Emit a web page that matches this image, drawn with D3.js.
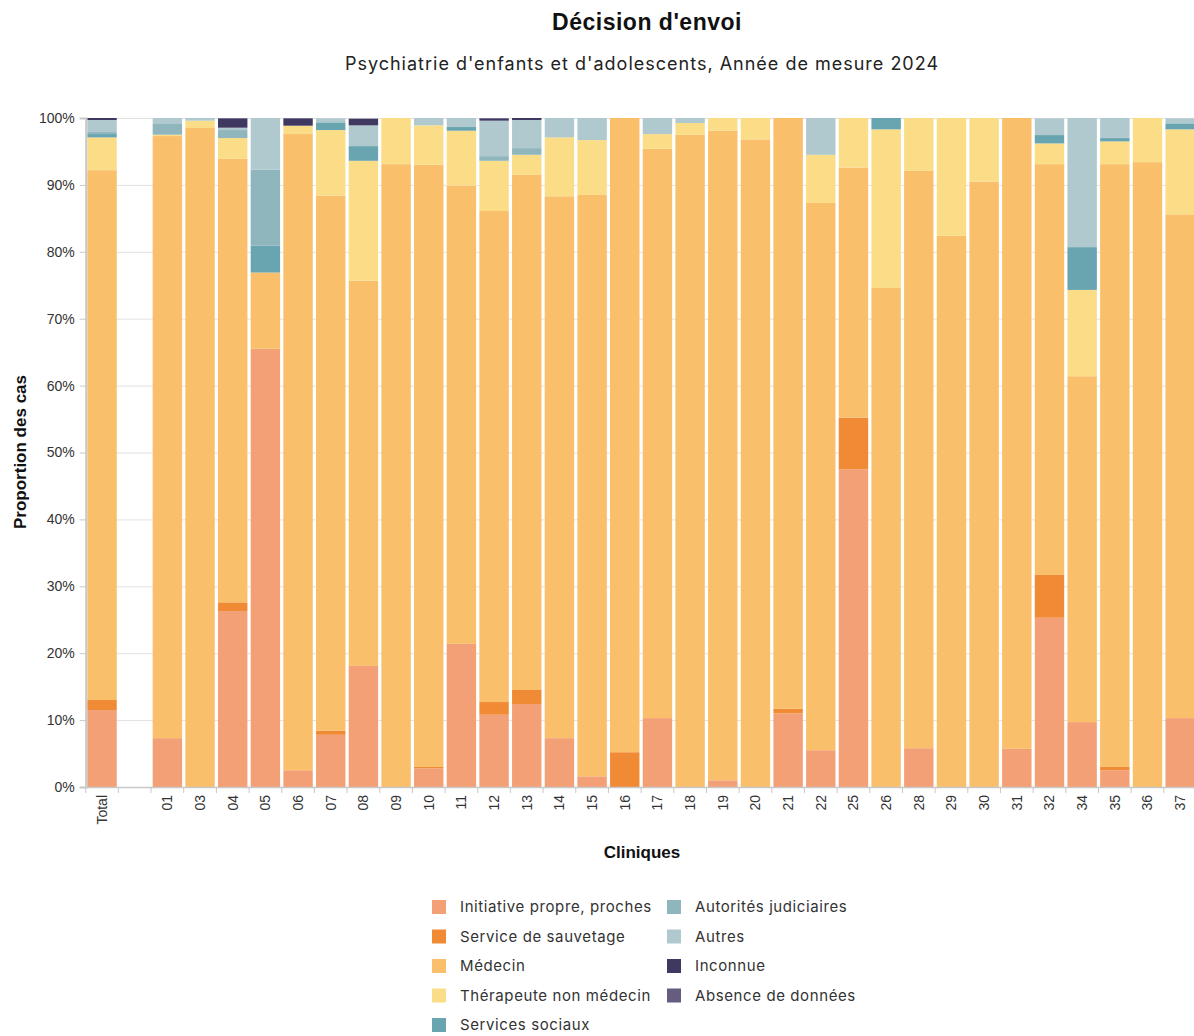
<!DOCTYPE html>
<html>
<head>
<meta charset="utf-8">
<script src="https://cdn.jsdelivr.net/npm/d3@7"></script>
<style>
	body { margin: 0; background: #fff; }
	svg { display: block; }
	.title { font-family: "Liberation Sans", Arial, sans-serif; font-weight: bold; font-size: 23px; letter-spacing: 0.5px; fill: #111; }
	.subtitle { font-family: Inter, "Open Sans", sans-serif; font-size: 18px; letter-spacing: 1px; fill: #222; }
	.axis-title { font-family: "Liberation Sans", Arial, sans-serif; font-weight: bold; font-size: 17px; fill: #111; }
	.y.axis text, .x.axis text { font-family: "Liberation Sans", Arial, sans-serif; font-size: 14px; fill: #333; }
	.legend text { font-family: Inter, "Open Sans", sans-serif; font-size: 15px; letter-spacing: 0.6px; fill: #333; }
</style>
</head>
<body>
<svg id="chart"></svg>
<script>
var categories = [ "Total", "", "01", "03", "04", "05", "06", "07", "08", "09", "10", "11", "12", "13", "14", "15", "16",
	"17", "18", "19", "20", "21", "22", "25", "26", "28", "29", "30", "31", "32", "34", "35", "36", "37" ];

var series_names = [ "Initiative propre, proches", "Service de sauvetage", "Médecin", "Thérapeute non médecin",
	"Services sociaux", "Autorités judiciaires", "Autres", "Inconnue", "Absence de données" ];

var series_colors = [ "#f4a077", "#f08a35", "#f9bf6a", "#fbdd87", "#69a5b0", "#8fb6bd", "#b0c9ce", "#3f3860", "#655c80" ];

// values in % of cases, same order as categories
var initiative  = [ 11.5, 0, 7.3, 0, 26.3, 65.5, 2.5, 7.8, 18.1, 0, 2.8, 21.4, 10.8, 12.4, 7.3, 1.6, 0, 10.3, 0, 1.0, 0, 11.0, 5.5, 47.5, 0, 5.8, 0, 0, 5.7, 25.3, 9.7, 2.5, 0, 10.3 ];
var sauvetage   = [ 1.5, 0, 0, 0, 1.3, 0, 0, 0.6, 0, 0, 0.2, 0, 1.9, 2.1, 0, 0, 5.2, 0, 0, 0, 0, 0.7, 0, 7.7, 0, 0, 0, 0, 0, 6.4, 0, 0.5, 0, 0 ];
var medecin     = [ 79.2, 0, 90.0, 98.5, 66.3, 11.4, 95.1, 80.0, 57.6, 93.1, 90.0, 68.5, 73.4, 77.0, 81.0, 86.9, 94.8, 85.1, 97.5, 97.1, 96.8, 88.3, 81.8, 37.4, 74.6, 86.3, 82.4, 90.5, 94.3, 61.4, 51.7, 90.1, 93.4, 75.3 ];
var therapeute  = [ 4.9, 0, 0.2, 1.1, 3.1, 0, 1.25, 9.8, 17.9, 6.9, 5.9, 8.2, 7.5, 3.0, 8.8, 8.2, 0, 2.2, 1.75, 1.9, 3.2, 0, 7.2, 7.4, 23.7, 7.9, 17.6, 9.5, 0, 3.1, 12.9, 3.4, 6.6, 12.7 ];
var sociaux     = [ 0.5, 0, 0, 0, 0, 4.0, 0, 1.15, 2.2, 0, 0, 0.55, 0, 0, 0, 0, 0, 0, 0, 0, 0, 0, 0, 0, 1.7, 0, 0, 0, 0, 1.25, 6.4, 0.5, 0, 0.9 ];
var judiciaires = [ 0.3, 0, 1.6, 0, 1.2, 11.4, 0, 0, 0, 0, 0, 0, 0.7, 1.0, 0, 0, 0, 0, 0, 0, 0, 0, 0, 0, 0, 0, 0, 0, 0, 0, 0, 0, 0, 0 ];
var autres      = [ 1.8, 0, 0.9, 0.4, 0.35, 7.7, 0, 0.6, 3.1, 0, 1.1, 1.35, 5.3, 4.2, 2.9, 3.3, 0, 2.4, 0.75, 0, 0, 0, 5.5, 0, 0, 0, 0, 0, 0, 2.5, 19.3, 3.0, 0, 0.75 ];
var inconnue    = [ 0.3, 0, 0, 0, 1.4, 0, 1.1, 0, 1.0, 0, 0, 0, 0.35, 0.3, 0, 0, 0, 0, 0, 0, 0, 0, 0, 0, 0, 0, 0, 0, 0, 0, 0, 0, 0, 0 ];
var absence     = [ 0, 0, 0, 0, 0, 0, 0, 0, 0, 0, 0, 0, 0, 0, 0, 0, 0, 0, 0, 0, 0, 0, 0, 0, 0, 0, 0, 0, 0, 0, 0, 0, 0, 0 ];

var y_ticks = [ 0, 10, 20, 30, 40, 50, 60, 70, 80, 90, 100 ];

var series_values = [ initiative, sauvetage, medecin, therapeute, sociaux, judiciaires, autres, inconnue, absence ];

var width  = 1194;
var height = 1036;

var svg = d3.select( "#chart" )
	.attr( "width", width )
	.attr( "height", height );

var plot = { left : 85.7, right : 1196.5, top : 118, bottom : 787 };

// one row per category
var rows = categories.map( function( c, i ){
	var row = { cat : c };
	series_names.forEach( function( s, j ){ row[ s ] = series_values[ j ][ i ]; } );
	return row;
});

var x = d3.scaleBand()
	.domain( categories )
	.range([ plot.left, plot.right ])
	.paddingInner( 0.1 )
	.paddingOuter( 0.05 );

var y = d3.scaleLinear()
	.domain([ 0, 100 ])
	.range([ plot.bottom, plot.top ]);

var color = d3.scaleOrdinal().domain( series_names ).range( series_colors );

// Titles
svg.append( "text" )
	.attr( "class", "title" )
	.attr( "x", 647 ).attr( "y", 30 )
	.attr( "text-anchor", "middle" )
	.text( "Décision d'envoi" );

svg.append( "text" )
	.attr( "class", "subtitle" )
	.attr( "x", 642 ).attr( "y", 70 )
	.attr( "text-anchor", "middle" )
	.text( "Psychiatrie d'enfants et d'adolescents, Année de mesure 2024" );

// Grid lines
svg.append( "g" )
	.selectAll( "line" )
	.data( y_ticks )
	.enter()
	.append( "line" )
		.attr( "x1", plot.left ).attr( "x2", width )
		.attr( "y1", function( d ){ return y( d ) + 0.5; } )
		.attr( "y2", function( d ){ return y( d ) + 0.5; } )
		.style( "stroke", "#e2e2e2" );

// Stacked bars
var stack = d3.stack().keys( series_names );
var layers = stack( rows );

svg.append( "g" )
	.selectAll( "g" )
	.data( layers )
	.enter()
	.append( "g" )
		.style( "fill", function( d ){ return color( d.key ); } )
	.selectAll( "rect" )
	.data( function( d ){ return d; } )
	.enter()
	.append( "rect" )
		.attr( "x", function( d ){ return x( d.data.cat ); } )
		.attr( "y", function( d ){ return y( d[1] ); } )
		.attr( "width", x.bandwidth() )
		.attr( "height", function( d ){ return Math.max( 0, y( d[0] ) - y( d[1] ) ); } );

// Y axis
var y_axis = d3.axisLeft( y ).tickValues( y_ticks ).tickSize( 6 ).tickPadding( 5 ).tickFormat( function( d ){ return d + "%"; } );

var gy = svg.append( "g" )
	.attr( "class", "y axis" )
	.attr( "transform", "translate(" + plot.left + ",0)" )
	.call( y_axis );
gy.select( ".domain" ).style( "stroke", "#c8c8c8" ).style( "stroke-width", 2 );
gy.selectAll( ".tick line" ).style( "stroke", "#c8c8c8" );

// X axis: labels at band centres, ticks at band edges
var x_axis = d3.axisBottom( x ).tickSize( 0 ).tickPadding( 8 );

var gx = svg.append( "g" )
	.attr( "class", "x axis" )
	.attr( "transform", "translate(0," + plot.bottom + ")" )
	.call( x_axis );
gx.select( ".domain" ).style( "stroke", "#c8c8c8" ).style( "stroke-width", 1.5 );
gx.selectAll( ".tick text" )
	.attr( "transform", "rotate(-90)" )
	.attr( "text-anchor", "end" )
	.attr( "x", -8 )
	.attr( "y", 0 )
	.attr( "dy", "0.35em" );

var gap = x.step() * x.paddingInner() / 2;
gx.append( "g" )
	.selectAll( "line" )
	.data( categories )
	.enter()
	.append( "line" )
		.attr( "x1", function( d ){ return x( d ) - gap; } )
		.attr( "x2", function( d ){ return x( d ) - gap; } )
		.attr( "y1", 0 ).attr( "y2", 6 )
		.style( "stroke", "#c8c8c8" );

// Axis titles
svg.append( "text" )
	.attr( "class", "axis-title" )
	.attr( "transform", "translate(26,452) rotate(-90)" )
	.attr( "text-anchor", "middle" )
	.text( "Proportion des cas" );

svg.append( "text" )
	.attr( "class", "axis-title" )
	.attr( "x", 642 ).attr( "y", 858 )
	.attr( "text-anchor", "middle" )
	.text( "Cliniques" );

// Legend, two columns of five rows
var legend = svg.append( "g" ).attr( "class", "legend" );

var items = legend.selectAll( "g" )
	.data( series_names )
	.enter()
	.append( "g" )
		.attr( "transform", function( d, i ){
			var col = Math.floor( i / 5 );
			var row = i % 5;
			return "translate(" + ( 432 + col * 235 ) + "," + ( 900 + row * 29.5 ) + ")";
		});

items.append( "rect" )
	.attr( "width", 14 ).attr( "height", 14 )
	.style( "fill", function( d ){ return color( d ); } );

items.append( "text" )
	.attr( "x", 28 ).attr( "y", 7 )
	.attr( "dy", "0.35em" )
	.text( function( d ){ return d; } );
</script>
</body>
</html>
